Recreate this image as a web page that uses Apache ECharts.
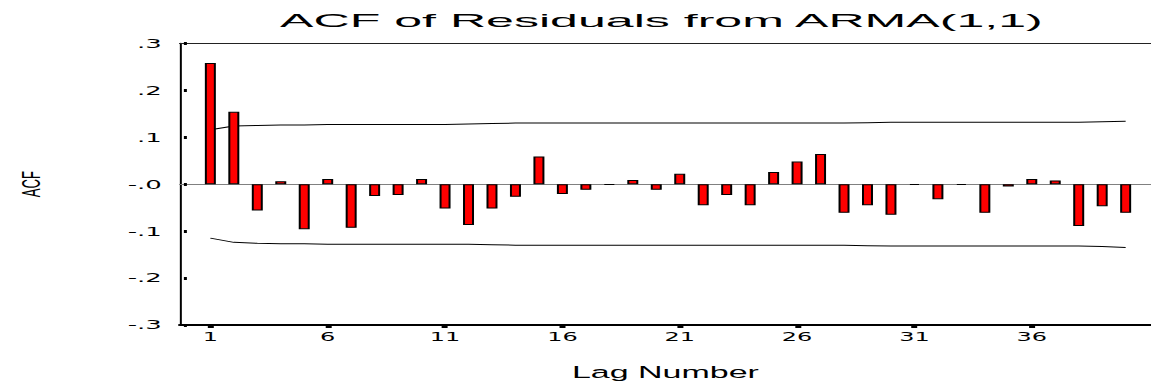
<!DOCTYPE html>
<html>
<head>
<meta charset="utf-8">
<script src="https://cdn.jsdelivr.net/npm/echarts@6/dist/echarts.min.js"></script>
<style>
  html, body { margin: 0; padding: 0; background: #fff; overflow: hidden; }
  /* The reference is a horizontally stretched SPSS chart: draw at half width, stretch x2 */
  #chart { width: 576px; height: 386px; transform: scaleX(1.998264); transform-origin: 0 0; }
</style>
</head>
<body>
<div id="chart"></div>
<script>
// ---- data ----
const lags = [1,2,3,4,5,6,7,8,9,10,11,12,13,14,15,16,17,18,19,20,21,22,23,24,25,26,27,28,29,30,31,32,33,34,35,36,37,38,39,40];
const acf = [0.258, 0.154, -0.056, 0.006, -0.096, 0.011, -0.093, -0.025, -0.023, 0.011,
             -0.052, -0.087, -0.052, -0.027, 0.059, -0.021, -0.012, -0.001, 0.009, -0.012,
             0.022, -0.045, -0.023, -0.045, 0.026, 0.048, 0.064, -0.061, -0.045, -0.065,
             -0.002, -0.032, -0.002, -0.061, -0.005, 0.011, 0.008, -0.089, -0.047, -0.061];
const upperLimit = [0.116, 0.124, 0.125, 0.126, 0.126, 0.127, 0.127, 0.127, 0.127, 0.127,
                    0.127, 0.128, 0.129, 0.130, 0.130, 0.130, 0.130, 0.130, 0.130, 0.130,
                    0.130, 0.130, 0.130, 0.130, 0.130, 0.130, 0.130, 0.130, 0.131, 0.132,
                    0.132, 0.132, 0.132, 0.132, 0.132, 0.132, 0.132, 0.132, 0.133, 0.134];
const lowerLimit = [-0.115, -0.124, -0.126, -0.127, -0.127, -0.128, -0.128, -0.128, -0.128, -0.128,
                    -0.128, -0.128, -0.129, -0.130, -0.130, -0.130, -0.130, -0.130, -0.130, -0.130,
                    -0.130, -0.130, -0.130, -0.130, -0.130, -0.130, -0.130, -0.130, -0.131, -0.132,
                    -0.132, -0.132, -0.132, -0.132, -0.132, -0.132, -0.132, -0.132, -0.133, -0.135];
const xTickValues = [1, 6, 11, 16, 21, 26, 31, 36];
const yTickValues = [-0.3, -0.2, -0.1, 0, 0.1, 0.2, 0.3];
const yTickLabels = ['-.3', '-.2', '-.1', '-.0', '.1', '.2', '.3'];
const titleText = 'ACF of Residuals from ARMA(1,1)';
const xName = 'Lag Number';
const yName = 'ACF';

const FONT = 'Arial, "Liberation Sans", Helvetica, sans-serif';
const TICKFONT = '"DejaVu Sans", Arial, sans-serif';
const chart = echarts.init(document.getElementById('chart'), null, { renderer: 'svg' });

const pair = (arr) => lags.map((l, i) => [l, arr[i]]);
const X_MIN = -0.3, X_MAX = 41.08;

chart.setOption({
  animation: false,
  backgroundColor: '#fff',
  graphic: [{
    type: 'text',
    x: 331, y: 20.5,
    scaleX: 1.32,
    style: {
      text: titleText, font: '19px ' + FONT, fill: '#000',
      textAlign: 'center', textVerticalAlign: 'middle'
    }
  }],
  grid: { left: 90, right: 0, top: 43.3, bottom: 60.4, containLabel: false },
  xAxis: [{
    type: 'value', min: X_MIN, max: X_MAX, position: 'bottom',
    name: xName, nameLocation: 'middle', nameGap: 39,
    nameTextStyle: { fontFamily: FONT, fontSize: 17, color: '#000' },
    axisLine: { show: true, onZero: false, lineStyle: { color: '#000', width: 2 } },
    axisTick: { show: true, customValues: xTickValues, length: 3, lineStyle: { color: '#000', width: 3 } },
    axisLabel: { show: true, customValues: xTickValues, margin: 6, fontFamily: TICKFONT, fontSize: 12, color: '#000',
                 formatter: (v) => String(v) },
    splitLine: { show: false }
  }, {
    type: 'value', min: X_MIN, max: X_MAX, position: 'top',
    axisLine: { show: true, onZero: false, lineStyle: { color: '#222', width: 1 } },
    axisTick: { show: false }, axisLabel: { show: false }, splitLine: { show: false }
  }, {
    // zero reference line, drawn beneath the bars
    type: 'value', min: X_MIN, max: X_MAX, position: 'bottom',
    axisLine: { show: true, onZero: true, lineStyle: { color: '#808080', width: 1 } },
    axisTick: { show: false }, axisLabel: { show: false }, splitLine: { show: false }
  }],
  yAxis: [{
    type: 'value', min: -0.3, max: 0.3, interval: 0.1, position: 'left',
    axisLine: { show: true, onZero: false, lineStyle: { color: '#000', width: 1 } },
    axisTick: { show: false }, axisLabel: { show: false }, splitLine: { show: false }
  }, {
    type: 'value', min: -0.3, max: 0.3, interval: 0.1, position: 'left', offset: 2,
    name: yName, nameLocation: 'middle', nameRotate: 90, nameGap: 66,
    nameTextStyle: { fontFamily: FONT, fontSize: 13, color: '#000' },
    axisLine: { show: false },
    axisTick: { show: true, length: 1.5, lineStyle: { color: '#000', width: 3 } },
    axisLabel: { show: true, margin: 7, fontFamily: TICKFONT, fontSize: 13, color: '#000',
                 formatter: (v) => { const i = yTickValues.findIndex(t => Math.abs(t - v) < 1e-6); return i >= 0 ? yTickLabels[i] : ''; } },
    splitLine: { show: false }
  }],
  series: [{
    type: 'bar', xAxisIndex: 0, yAxisIndex: 0,
    data: pair(acf),
    barWidth: 5.5,
    itemStyle: { color: '#ff0000', borderColor: '#000', borderWidth: 1 },
    z: 3
  }, {
    type: 'line', xAxisIndex: 0, yAxisIndex: 0,
    data: pair(upperLimit), symbol: 'none',
    lineStyle: { color: '#000', width: 1 }, z: 2
  }, {
    type: 'line', xAxisIndex: 0, yAxisIndex: 0,
    data: pair(lowerLimit), symbol: 'none',
    lineStyle: { color: '#000', width: 1 }, z: 2
  }]
});
</script>
</body>
</html>
